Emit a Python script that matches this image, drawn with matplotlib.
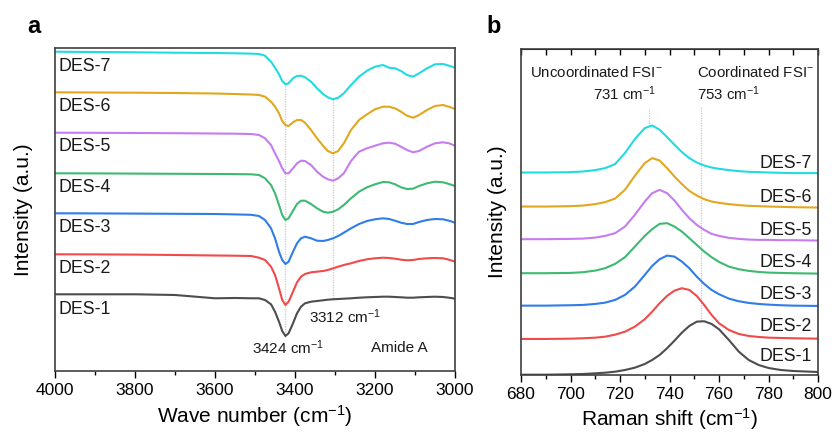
import matplotlib
matplotlib.use("Agg")
from matplotlib import pyplot as plt
from matplotlib.ticker import MultipleLocator

plt.rcParams["font.family"] = ["Liberation Sans", "DejaVu Sans"]
plt.rcParams["mathtext.fontset"] = "custom"
plt.rcParams["mathtext.rm"] = "Liberation Sans"
plt.rcParams["mathtext.it"] = "Liberation Sans"

# ---- panel a: FTIR, amide A region ----
wn = [4000, 3900, 3800, 3700, 3600, 3550, 3510,
      3490, 3475, 3460, 3450, 3440, 3432, 3424, 3416, 3405, 3395, 3385, 3375,
      3360, 3345, 3330, 3318, 3305, 3292, 3278, 3260, 3240, 3220, 3200, 3180,
      3165, 3150, 3135, 3120, 3105, 3090, 3070, 3050, 3030, 3015, 3000]

ir_des1 = [76.7, 76.7, 76.7, 76.0, 72.7, 73.0, 72.7,
           72.7, 71.0, 66.7, 59.3, 49.3, 40.0, 35.0, 37.7, 47.7, 57.7, 64.3, 67.7,
           69.3, 70.0, 70.7, 71.3, 71.7, 72.0, 72.3, 72.7, 73.3, 73.7, 74.0, 74.3,
           74.3, 74.0, 73.7, 73.3, 73.3, 73.7, 74.0, 74.3, 74.0, 73.3, 72.3]
ir_des2 = [116.7, 116.6, 116.4, 116.0, 115.5, 115.3, 115.0,
           113.3, 111.0, 104.3, 96.0, 82.7, 71.0, 66.0, 69.3, 79.3, 88.7, 94.3, 97.0,
           98.7, 99.3, 100.0, 101.0, 102.7, 104.3, 106.0, 107.7, 110.0, 111.7, 112.7, 113.3,
           113.0, 112.3, 111.3, 110.7, 111.0, 112.0, 112.7, 113.0, 112.7, 111.3, 109.3]
ir_des3 = [157.7, 157.6, 157.4, 157.2, 157.0, 156.6, 156.2,
           155.0, 151.0, 142.7, 132.7, 119.3, 111.0, 107.0, 109.3, 119.3, 127.7, 132.7, 134.3,
           132.7, 130.3, 130.0, 131.0, 132.7, 135.0, 138.3, 142.7, 147.0, 150.0, 151.7, 152.7,
           152.0, 150.3, 148.3, 147.0, 147.0, 149.0, 151.0, 152.0, 151.7, 150.3, 148.3]
ir_des4 = [197.7, 197.6, 197.4, 197.2, 197.0, 196.9, 196.7,
           196.0, 192.7, 186.0, 177.7, 166.0, 156.0, 151.0, 152.7, 160.3, 167.0, 170.3, 170.3,
           167.0, 162.7, 159.3, 158.3, 159.3, 161.7, 166.0, 172.7, 179.3, 183.7, 186.7, 189.0,
           188.7, 186.7, 183.7, 182.0, 182.3, 185.0, 187.7, 189.3, 188.7, 187.0, 185.0]
ir_des5 = [238.3, 238.2, 238.0, 237.8, 237.5, 237.3, 237.0,
           236.0, 232.7, 226.0, 217.7, 210.0, 202.7, 197.7, 197.7, 202.7, 207.7, 210.3, 210.0,
           206.0, 199.3, 194.3, 191.7, 190.3, 192.7, 197.7, 210.0, 219.3, 222.7, 225.3, 227.7,
           228.3, 227.3, 224.3, 221.0, 218.7, 220.0, 224.3, 227.7, 228.7, 227.7, 225.3]
ir_des6 = [278.7, 278.5, 278.3, 278.0, 277.5, 277.0, 276.5,
           276.0, 274.3, 269.3, 264.3, 257.7, 250.0, 246.0, 245.0, 248.7, 251.0, 251.0, 248.3,
           241.0, 232.7, 225.3, 220.0, 217.7, 220.0, 227.7, 241.0, 251.0, 256.7, 261.7, 264.3,
           264.3, 262.7, 259.3, 255.3, 253.3, 256.0, 261.0, 265.0, 266.0, 264.3, 262.0]
ir_des7 = [319.3, 319.0, 318.7, 318.3, 318.0, 317.7, 317.4,
           317.0, 315.3, 309.3, 303.3, 296.7, 290.0, 286.7, 287.7, 292.7, 295.0, 295.3, 293.7,
           289.3, 282.7, 277.0, 273.7, 271.7, 273.3, 277.7, 286.0, 294.3, 300.3, 304.3, 306.0,
           303.3, 302.7, 300.0, 296.0, 294.3, 297.7, 302.7, 306.7, 307.0, 305.3, 303.3]

# ---- panel b: Raman, FSI- S-N-S band ----
shift = [680, 690, 700, 705, 710, 714, 718, 722, 726, 730, 733, 736, 739, 742,
         745, 748, 751, 754, 757, 760, 764, 768, 772, 776, 780, 785, 790, 800]

ra_des1 = [0.3, 0.3, 0.7, 1.0, 1.7, 2.3, 3.3, 5.0, 7.3, 11.0, 15.0, 20.0, 26.7, 34.3,
           42.3, 49.0, 53.3, 53.7, 51.0, 45.7, 35.0, 23.3, 15.0, 10.0, 7.0, 5.0, 4.0, 3.0]
ra_des2 = [36.0, 36.0, 36.3, 36.7, 37.3, 38.3, 40.3, 43.3, 48.3, 55.7, 63.3, 71.7, 79.0, 84.3,
           86.7, 85.0, 79.0, 70.0, 60.0, 51.7, 45.0, 41.0, 39.0, 38.0, 37.3, 37.0, 36.7, 36.3]
ra_des3 = [69.3, 69.3, 69.7, 70.0, 71.0, 72.3, 75.0, 80.0, 88.3, 100.0, 109.0, 115.7, 119.3, 118.3,
           113.3, 106.7, 98.3, 91.0, 85.0, 80.7, 76.3, 73.7, 72.0, 71.0, 70.3, 69.7, 69.3, 69.0]
ra_des4 = [101.7, 101.7, 102.0, 102.7, 104.3, 106.7, 111.0, 117.7, 128.3, 139.0, 145.7, 151.0, 151.7, 148.3,
           143.3, 136.7, 130.0, 123.3, 117.7, 113.0, 108.3, 105.7, 104.0, 103.0, 102.3, 102.0, 101.7, 101.3]
ra_des5 = [135.7, 135.7, 136.0, 136.3, 137.3, 139.0, 141.7, 148.3, 160.0, 173.3, 181.7, 185.0, 181.7, 174.3,
           165.0, 156.7, 150.0, 145.0, 141.0, 139.0, 137.0, 136.0, 135.3, 135.0, 135.0, 134.7, 134.7, 134.3]
ra_des6 = [168.3, 168.3, 168.7, 169.3, 170.7, 172.7, 176.3, 185.0, 199.0, 211.7, 216.7, 214.3, 206.7, 198.3,
           190.7, 184.0, 179.3, 175.7, 173.3, 172.0, 170.7, 169.7, 169.0, 168.7, 168.3, 168.0, 167.7, 167.3]
ra_des7 = [202.3, 202.3, 202.7, 203.3, 204.7, 206.7, 210.7, 221.7, 235.7, 246.7, 249.3, 245.0, 237.7, 230.0,
           222.7, 216.7, 212.3, 209.3, 207.3, 206.0, 204.7, 203.7, 203.0, 202.7, 202.3, 202.0, 201.7, 201.7]

names = ["DES-1", "DES-2", "DES-3", "DES-4", "DES-5", "DES-6", "DES-7"]
colors = ["#4d4d4d", "#f24a4a", "#2f7de8", "#3dba72", "#c67cee", "#e2a71f", "#21dbe0"]
ir_all = [ir_des1, ir_des2, ir_des3, ir_des4, ir_des5, ir_des6, ir_des7]
ra_all = [ra_des1, ra_des2, ra_des3, ra_des4, ra_des5, ra_des6, ra_des7]
ir_label_y = [61, 102.7, 143, 183, 224.3, 264.3, 304.3]
ra_label_y = [18.3, 48.3, 80, 112.7, 144.3, 177.7, 211.7]

fig = plt.figure(figsize=(8.32, 4.36), dpi=100)
ax1 = fig.add_axes([0.0661, 0.1491, 0.4808, 0.7408])
ax2 = fig.add_axes([0.6262, 0.1399, 0.3570, 0.7477])

# panel a
for y, c, n, ly in zip(ir_all, colors, names, ir_label_y):
    ax1.plot(wn, y, color=c, lw=1.5)
    ax1.text(3990, ly, n, fontsize=12.8, ha="left", va="center", color="#1a1a1a")
ax1.vlines(3424, 34, 286, colors="#c8c8c8", linestyles=(0, (1, 1)), lw=0.9, zorder=0)
ax1.vlines(3305, 73, 272, colors="#c8c8c8", linestyles=(0, (1, 1)), lw=0.9, zorder=0)
ax1.text(3418, 23, r"3424 cm$^{-1}$", fontsize=11, ha="center", va="center", color="#1a1a1a")
ax1.text(3275, 54, r"3312 cm$^{-1}$", fontsize=11, ha="center", va="center", color="#1a1a1a")
ax1.text(3140, 23, "Amide A", fontsize=11, ha="center", va="center", color="#1a1a1a")
ax1.set_xlim(4000, 3000)
ax1.set_ylim(0, 323)
ax1.xaxis.set_major_locator(MultipleLocator(200))
ax1.xaxis.set_minor_locator(MultipleLocator(100))
ax1.set_yticks([])
ax1.tick_params(axis="x", which="both", direction="out", top=False, labelsize=12.5)
ax1.tick_params(axis="x", which="major", length=5, width=1)
ax1.tick_params(axis="x", which="minor", length=3, width=1)
ax1.set_xlabel(r"Wave number (cm$^{-1}$)", fontsize=15, labelpad=4)
ax1.set_ylabel("Intensity (a.u.)", fontsize=15, labelpad=16)
fig.text(0.033, 0.924, "a", fontsize=17, fontweight="bold")

# panel b
for y, c, n, ly in zip(ra_all, colors, names, ra_label_y):
    ax2.plot(shift, y, color=c, lw=1.5)
    ax2.text(797.5, ly, n, fontsize=12.8, ha="right", va="center", color="#1a1a1a")
ax2.vlines(731.7, 249, 267, colors="#c8c8c8", linestyles=(0, (1, 1)), lw=0.9, zorder=0)
ax2.vlines(752.6, 54, 269, colors="#c8c8c8", linestyles=(0, (1, 1)), lw=0.9, zorder=0)
ax2.text(683.5, 302.3, r"Uncoordinated FSI$^{-}$", fontsize=10.8, ha="left", va="center", color="#1a1a1a")
ax2.text(734.5, 281, r"731 cm$^{-1}$", fontsize=10.8, ha="right", va="center", color="#1a1a1a")
ax2.text(751.0, 302.3, r"Coordinated FSI$^{-}$", fontsize=10.8, ha="left", va="center", color="#1a1a1a")
ax2.text(751.0, 281, r"753 cm$^{-1}$", fontsize=10.8, ha="left", va="center", color="#1a1a1a")
ax2.set_xlim(680, 800)
ax2.set_ylim(0, 325.7)
ax2.xaxis.set_major_locator(MultipleLocator(20))
ax2.xaxis.set_minor_locator(MultipleLocator(10))
ax2.set_yticks([])
ax2.tick_params(axis="x", which="both", direction="out", labelsize=12.5)
ax2.tick_params(axis="x", which="major", length=5, width=1)
ax2.tick_params(axis="x", which="minor", length=3, width=1)
sec = ax2.secondary_xaxis("top")
sec.xaxis.set_major_locator(MultipleLocator(10))
sec.tick_params(axis="x", direction="in", length=4, width=1, labeltop=False)
ax2.set_xlabel(r"Raman shift (cm$^{-1}$)", fontsize=15, labelpad=3)
ax2.set_ylabel("Intensity (a.u.)", fontsize=15, labelpad=10)
fig.text(0.585, 0.924, "b", fontsize=17, fontweight="bold")

for ax in (ax1, ax2):
    for s in ax.spines.values():
        s.set_color("#404040")
        s.set_linewidth(1.2)

fig.savefig("out.png", dpi=100)
